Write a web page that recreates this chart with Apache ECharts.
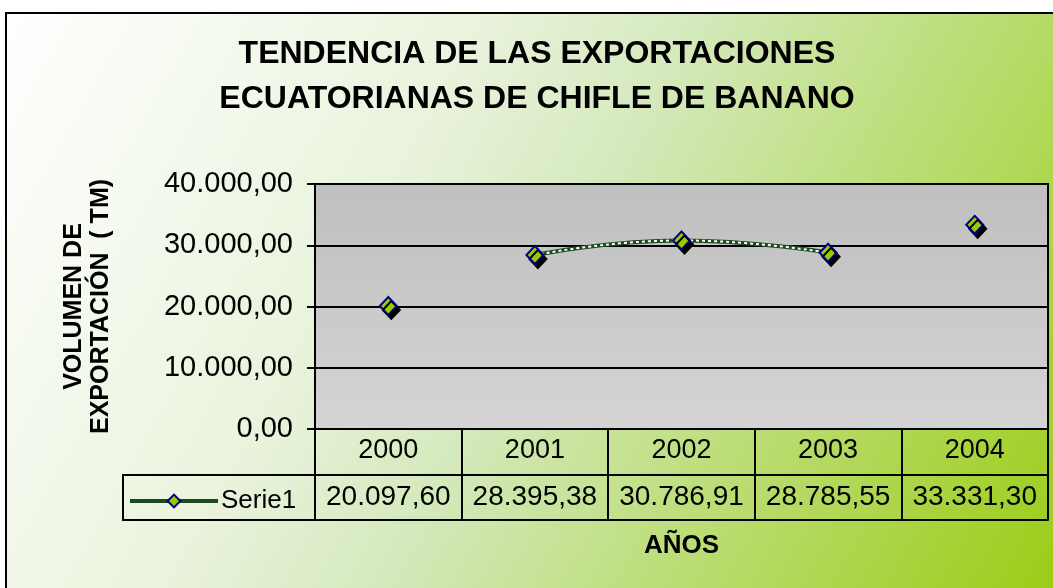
<!DOCTYPE html>
<html>
<head>
<meta charset="utf-8">
<script src="https://cdn.jsdelivr.net/npm/echarts@6/dist/echarts.min.js"></script>
<style>
  html, body { margin: 0; padding: 0; background: #fff; }
  #main { width: 1053px; height: 588px; }
</style>
</head>
<body>
<div id="main"></div>
<script>
// datos del grafico
const years = ['2000', '2001', '2002', '2003', '2004'];
const values = [20097.60, 28395.38, 30786.91, 28785.55, 33331.30];
const yTicks = [0, 10000, 20000, 30000, 40000];
// tramo donde Excel dibuja la linea suavizada
const curveYears = ['2001', '2002', '2003'];

const FONT = '"Liberation Sans", Arial, sans-serif';

// formato espanol: 30.786,91
function fmt(v) {
  let parts = v.toFixed(2).split('.');
  parts[0] = parts[0].replace(/\B(?=(\d{3})+(?!\d))/g, '.');
  return parts.join(',');
}

let curve = years.map((y, i) => (curveYears.indexOf(y) >= 0 ? values[i] : null));

let chart = echarts.init(document.getElementById('main'), null, { renderer: 'canvas' });

let option = {
  animation: false,
  textStyle: { fontFamily: FONT, color: '#000' },
  title: {
    text: 'TENDENCIA DE LAS EXPORTACIONES\nECUATORIANAS DE CHIFLE DE BANANO',
    left: 532,
    textAlign: 'center',
    top: 27,
    textStyle: { fontFamily: FONT, fontSize: 32, fontWeight: 'bold', color: '#000', lineHeight: 45 },
  },
  graphic: [
    {
      type: 'rect',
      z: -10,
      silent: true,
      shape: { x: 6, y: 13, width: 1060, height: 590 },
      style: {
        fill: new echarts.graphic.LinearGradient(0, 0, 1, 1, [
          { offset: 0, color: '#ffffff' },
          { offset: 0.35, color: '#e9f3dc' },
          { offset: 0.5, color: '#d4e9bc' },
          { offset: 1, color: '#99cc11' },
        ]),
        stroke: '#000',
        lineWidth: 2,
      },
    },
    {
      // celda de la leyenda en la tabla de datos
      type: 'rect',
      silent: true,
      shape: { x: 123, y: 475, width: 192, height: 45 },
      style: { fill: null, stroke: '#000', lineWidth: 2 },
    },
  ],
  legend: {
    data: ['Serie1'],
    left: 123,
    top: 483,
    itemWidth: 88,
    itemHeight: 16,
    itemGap: 0,
    textStyle: { fontFamily: FONT, fontSize: 26, color: '#000', padding: [0, 0, 0, -2] },
    lineStyle: { color: '#1c4a1c', width: 4, type: 'solid', opacity: 1 },
  },
  grid: {
    left: 315,
    right: 5,
    top: 184,
    bottom: 159,
    show: true,
    borderColor: '#000',
    borderWidth: 2,
    backgroundColor: new echarts.graphic.LinearGradient(0, 0, 0, 1, [
      { offset: 0, color: '#bfbfbf' },
      { offset: 1, color: '#d4d4d4' },
    ]),
  },
  xAxis: [
    {
      type: 'category',
      data: years,
      position: 'bottom',
      boundaryGap: true,
      axisLine: { lineStyle: { color: '#000', width: 2 } },
      axisTick: { show: true, length: 91, lineStyle: { color: '#000', width: 2 } },
      axisLabel: { fontFamily: FONT, fontSize: 27, color: '#000', margin: 8, interval: 0 },
    },
    {
      type: 'category',
      data: values.map(fmt),
      position: 'bottom',
      offset: 46,
      axisLine: { lineStyle: { color: '#000', width: 2 } },
      axisTick: { show: false },
      axisLabel: { fontFamily: FONT, fontSize: 28, color: '#000', margin: 8, interval: 0, hideOverlap: false },
    },
    {
      type: 'category',
      data: years,
      position: 'bottom',
      offset: 91,
      name: 'AÑOS',
      nameLocation: 'middle',
      nameGap: 13,
      nameTextStyle: { fontFamily: FONT, fontSize: 26, fontWeight: 'bold', color: '#000' },
      axisLine: { lineStyle: { color: '#000', width: 2 } },
      axisTick: { show: false },
      axisLabel: { show: false },
    },
  ],
  yAxis: {
    type: 'value',
    min: yTicks[0],
    max: yTicks[yTicks.length - 1],
    interval: yTicks[1] - yTicks[0],
    name: 'VOLUMEN DE\nEXPORTACIÓN  ( TM)',
    nameLocation: 'middle',
    nameGap: 200,
    nameTextStyle: { fontFamily: FONT, fontSize: 25, fontWeight: 'bold', color: '#000', lineHeight: 27 },
    axisLine: { show: true, lineStyle: { color: '#000', width: 2 } },
    axisTick: { show: true, length: 8, lineStyle: { color: '#000', width: 2 } },
    splitLine: { lineStyle: { color: '#000', width: 2 } },
    axisLabel: { fontFamily: FONT, fontSize: 29, color: '#000', margin: 22, formatter: v => fmt(v) },
  },
  series: [
    {
      name: 'curva',
      type: 'line',
      data: curve,
      smooth: 0.5,
      showSymbol: false,
      silent: true,
      z: 2,
      lineStyle: { color: '#1c4a1c', width: 4 },
    },
    {
      name: 'curva-puntos',
      type: 'line',
      data: curve,
      smooth: 0.5,
      showSymbol: false,
      silent: true,
      z: 3,
      lineStyle: { color: '#ffffff', width: 2, type: [3, 3] },
    },
    {
      name: 'Serie1',
      type: 'line',
      data: values,
      symbol: 'diamond',
      symbolSize: [17, 18],
      showAllSymbol: true,
      z: 5,
      lineStyle: { opacity: 0 },
      itemStyle: {
        color: '#99cc00',
        borderColor: '#000080',
        borderWidth: 2,
        shadowColor: '#000',
        shadowBlur: 0,
        shadowOffsetX: 3,
        shadowOffsetY: 4,
      },
    },
  ],
};

chart.setOption(option);
</script>
</body>
</html>
